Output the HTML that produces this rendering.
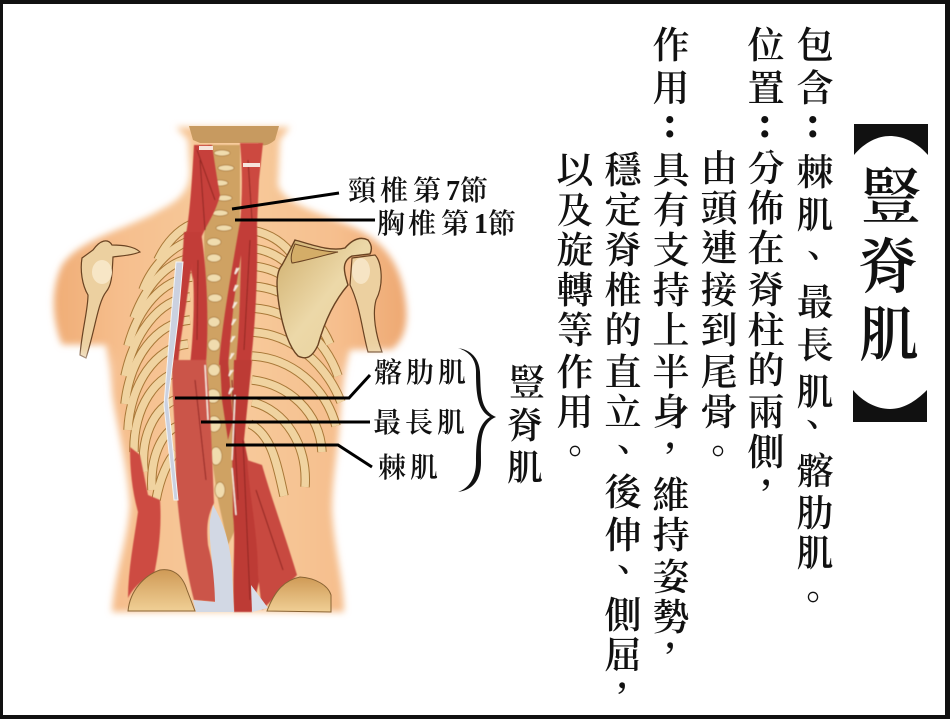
<!DOCTYPE html>
<html lang="zh-Hant">
<head>
<meta charset="utf-8">
<title>豎脊肌</title>
<style>
html,body{margin:0;padding:0;background:#fff}
#p{position:relative;width:950px;height:719px;overflow:hidden;background:#fff}
svg{position:absolute;left:0;top:0}
text{font-family:"Liberation Serif","Noto Serif CJK TC","Noto Serif CJK SC",serif;fill:#111;font-weight:600}
.c text{font-size:37px;text-anchor:middle}
.l text{font-size:28px;text-anchor:middle}
.t text{font-size:60px;text-anchor:middle}
.b text{font-size:36px;text-anchor:middle}
</style>
</head>
<body>
<div id="p">
<svg width="950" height="719" viewBox="0 0 950 719" xmlns="http://www.w3.org/2000/svg">
<defs>
<filter id="bl" x="-20%" y="-20%" width="140%" height="140%"><feGaussianBlur stdDeviation="3.5"/></filter>
<filter id="bl2" x="-40%" y="-40%" width="180%" height="180%"><feGaussianBlur stdDeviation="9"/></filter>
<filter id="bl3" x="-10%" y="-10%" width="120%" height="120%"><feGaussianBlur stdDeviation="0.6"/></filter>
<linearGradient id="sk" x1="0" x2="1" y1="0" y2="0">
<stop offset="0" stop-color="#f0ad76"/><stop offset=".2" stop-color="#f6bf8e"/><stop offset=".5" stop-color="#f7cb9c"/><stop offset=".8" stop-color="#f6bf8e"/><stop offset="1" stop-color="#eea872"/>
</linearGradient>
<linearGradient id="sc" x1="0" x2="1" y1="0" y2="1">
<stop offset="0" stop-color="#cfae6c"/><stop offset=".5" stop-color="#ecd8a8"/><stop offset="1" stop-color="#e8d09a"/>
</linearGradient>
<linearGradient id="pv" x1="0" x2="0" y1="0" y2="1">
<stop offset="0" stop-color="#cf9a56"/><stop offset="1" stop-color="#f0cf95"/>
</linearGradient>
<g id="ribsL" fill="none">
<path d="M192,224 C178,230 166,243 158,260"/>
<path d="M192,240 C172,246 152,266 143,290"/>
<path d="M192,258 C166,262 146,286 134,318"/>
<path d="M192,277 C162,280 138,308 128,346"/>
<path d="M190,297 C158,300 134,334 125,376"/>
<path d="M190,320 C156,323 130,358 125,404"/>
<path d="M188,344 C156,347 130,384 128,430"/>
<path d="M186,370 C156,373 133,408 134,452"/>
<path d="M182,398 C158,402 140,432 144,472"/>
<path d="M178,426 C162,432 150,456 152,490"/>
<path d="M176,452 C168,460 160,478 156,500"/>
</g>
<g id="ribsR" fill="none">
<path d="M250,230 C270,233 285,243 296,260"/>
<path d="M250,248 C275,250 295,266 306,288"/>
<path d="M250,266 C280,267 305,288 318,316"/>
<path d="M250,286 C285,287 315,310 330,344"/>
<path d="M250,308 C290,309 325,338 338,376"/>
<path d="M250,332 C290,333 325,362 341,402"/>
<path d="M252,356 C290,358 325,385 336,426"/>
<path d="M252,380 C288,384 320,412 322,452"/>
<path d="M252,402 C285,410 308,445 305,487"/>
<path d="M250,424 C270,434 276,458 284,496"/>
</g>
</defs>

<!-- body -->
<g filter="url(#bl)">
<path fill="url(#sk)" d="M176,127 L290,127 L280,140 L278,185 C285,205 320,212 355,228 C385,242 402,265 406,305 C408,325 404,340 392,350 L350,350 C344,380 342,395 340,420 C338,450 332,480 332,510 C334,550 344,580 344,612 L112,612 C114,575 128,540 130,505 C128,470 118,430 112,395 C110,375 108,360 106,345 L62,345 C52,320 50,290 62,265 C80,238 130,228 160,210 C180,200 190,190 190,170 L188,140 Z"/>
</g>
<!-- head / hair -->
<path fill="#c79a60" d="M189,126 L279,126 L275,140 C268,146 262,147 258,143 L200,143 L193,140 Z"/>
<!-- ribs -->
<g stroke="#a87838" stroke-width="9.5"><use href="#ribsL"/><use href="#ribsR"/></g>
<g stroke="#f0d3a0" stroke-width="7.5"><use href="#ribsL"/><use href="#ribsR"/></g>

<!-- left arm -->
<path fill="#ecd0a0" stroke="#6a4322" stroke-width="1.2" d="M93,250 C100,240 108,238 112,245 C125,245 135,247 140,252 C130,256 118,256 113,257 C112,275 112,285 106,292 C98,302 95,330 86,358 L80,355 C82,330 88,310 88,295 C82,285 80,270 82,258 Z"/>
<ellipse cx="102" cy="272" rx="10" ry="12" fill="#f7e6c6"/>
<!-- right arm -->
<path fill="#ecd0a0" stroke="#6a4322" stroke-width="1.2" d="M352,258 L375,255 C382,262 384,285 376,300 C372,315 376,335 382,352 L368,352 C362,330 360,305 350,285 Z"/>
<ellipse cx="361" cy="271" rx="9" ry="13" fill="#f6e4c4"/>
<!-- scapula -->
<path fill="url(#sc)" stroke="#6a4322" stroke-width="1.4" d="M295,240 C310,244 330,252 345,248 C352,240 360,236 368,240 C372,245 372,250 370,254 L352,256 C340,262 345,275 348,285 C335,300 325,320 318,345 C312,358 306,360 298,356 C290,348 283,330 279,305 C276,285 276,272 282,265 C286,258 290,250 295,240 Z"/>
<path fill="#d4ad68" stroke="#6a4322" stroke-width="1" d="M295,244 C310,248 325,252 338,252 C325,255 300,262 292,263 C290,258 292,250 295,244 Z"/>
<!-- white fades -->
<g filter="url(#bl2)" fill="#fff">
<path d="M30,352 L106,362 L98,405 L30,410 Z"/>
<path d="M352,362 L425,356 L425,420 L356,410 Z"/>
</g>

<!-- spine -->
<g filter="url(#bl3)">
<path fill="#cfa263" d="M208,145 L240,145 L240,240 L242,330 L238,420 L240,520 L228,545 L218,500 L206,420 L206,330 L204,240 Z"/>
<g fill="#f0dcae" stroke="#a87838" stroke-width=".7">
<ellipse cx="222" cy="153" rx="8" ry="3"/><ellipse cx="226" cy="168" rx="8" ry="3"/><ellipse cx="220" cy="183" rx="8" ry="3"/><ellipse cx="224" cy="198" rx="8" ry="3"/><ellipse cx="220" cy="213" rx="8" ry="3"/><ellipse cx="224" cy="228" rx="8" ry="3"/><ellipse cx="214" cy="242" rx="7" ry="4"/><ellipse cx="214" cy="258" rx="7" ry="4"/><ellipse cx="214" cy="278" rx="7" ry="4"/><ellipse cx="215" cy="298" rx="7" ry="4"/><ellipse cx="214" cy="322" rx="6" ry="5"/><ellipse cx="214" cy="345" rx="6" ry="6"/><ellipse cx="214" cy="370" rx="6" ry="6"/><ellipse cx="213" cy="396" rx="7" ry="7"/><ellipse cx="214" cy="424" rx="7" ry="8"/><ellipse cx="216" cy="456" rx="6" ry="9"/><ellipse cx="220" cy="490" rx="5" ry="8"/><ellipse cx="252" cy="495" rx="6" ry="9"/><ellipse cx="254" cy="475" rx="6" ry="7"/><ellipse cx="252" cy="533" rx="5" ry="6"/>
</g>
</g>

<!-- red muscles -->
<g filter="url(#bl3)">
<path fill="#c6403a" d="M194,145 L212,145 C215,165 218,185 220,195 C216,212 208,222 201,238 C198,250 195,262 193,280 L185,240 C190,215 192,180 194,145 Z"/>
<path fill="#cc4a3f" d="M240,143 L263,143 L259,180 L257,225 L240,225 C242,200 243,175 240,143 Z"/>
<path fill="#c23c37" d="M184,232 L201,232 C207,270 209,320 206,365 L190,365 C194,330 195,290 192,262 L186,305 L180,345 L178,365 L171,365 C174,325 182,280 184,232 Z"/>
<path fill="#c23c37" d="M240,222 L257,222 C258,270 256,320 250,370 L235,370 C240,330 240,290 241,255 L234,300 L228,365 L219,365 C222,325 230,280 240,222 Z"/>
<path fill="#bd3a35" d="M220,360 L228,360 L233,420 L228,440 L222,400 Z"/>
<path fill="#bd3a35" d="M234,360 L252,360 L244,440 L252,480 L264,560 L252,612 L234,612 C232,570 236,540 233,515 L232,440 Z"/>
<path fill="#cb5448" d="M172,360 L206,360 C210,400 212,450 214,503 C208,515 206,525 208,545 C214,570 218,590 216,602 L194,600 C186,570 178,520 176,480 C176,430 172,400 172,360 Z"/>
<path fill="#c8483f" d="M247,460 L262,465 C272,500 285,535 297,575 L262,610 L258,575 C258,535 250,500 247,460 Z"/>
<path fill="#cd4c42" d="M130,447 L140,455 L148,495 L160,500 C162,530 158,555 154,575 C140,580 132,590 128,598 C128,570 134,540 138,512 C132,490 130,470 130,447 Z"/>
<g fill="none" stroke="#8f2622" stroke-width="1">
<path d="M197,150 L215,200 M200,160 L205,230 M248,160 L252,220 M250,240 L244,350 M232,380 L238,500 M243,440 L250,600 M256,490 L283,570 M198,260 L197,340 M195,380 L206,480"/>
</g>
<g fill="none" stroke="#f8ece0" stroke-width="1.4">
<path d="M237,268 L235,274 L239,268 M236,285 L234,291 L238,285 M235,302 L233,308 L237,302 M234,319 L232,325 L236,319 M233,336 L231,342 L235,336 M232,353 L230,359 L234,353 M231,370 L229,376 L233,370 M231,388 L229,394 L233,388"/>
<path d="M205,365 L208,420 M235,395 L232,460 M232,468 L236,515"/>
</g>
</g>
<!-- tendon white -->
<path fill="#d2d8e4" d="M213,505 C222,520 230,540 232,570 L234,612 L196,612 L193,600 L215,602 C215,575 208,540 210,520 Z"/>
<path fill="#d8dde8" d="M251,585 L268,608 L252,612 Z"/>
<path fill="#cbd1e0" stroke="#f4f4f4" stroke-width="1" d="M176,262 L183,262 L178,320 L168,400 L175,470 L178,500 L174,500 L164,405 L170,330 Z"/>
<rect x="199" y="146" width="14" height="4" fill="#f6e4dc"/>
<rect x="243" y="163" width="17" height="4" fill="#f6e4dc"/>
<!-- pelvis -->
<path fill="url(#pv)" stroke="#8a6434" stroke-width="1" d="M128,611 C130,590 145,575 160,570 C172,568 182,574 187,590 L195,611 Z"/>
<path fill="url(#pv)" stroke="#8a6434" stroke-width="1" d="M267,611 C275,590 285,580 300,577 C315,578 328,585 331,595 L331,612 Z"/>

<!-- leader lines -->
<g fill="none" stroke="#000" stroke-width="3">
<path d="M232,209 L339,193"/>
<path d="M235,220 L375,220"/>
<path d="M175,398 L349,398 L370,375"/>
<path d="M201,422 L370,422"/>
<path d="M226,445 L338,445 L372,467"/>
</g>
<!-- brace -->
<path fill="#111" d="M458,348 C471,350 479,358 480,372 C481,390 479,410 496,417 C479,424 481,445 481,462 C481,480 473,490 458,492 C469,488 476,478 476,462 C476,440 478,424 490,417 C477,410 476,392 476,372 C476,360 470,352 458,348 Z"/>

<!-- brackets -->
<path fill="#111" d="M854,124 L928,124 L928,155 C915,140 900,136 890,136 C878,136 865,142 854,155 Z"/>
<path fill="#111" d="M853,422 L927,422 L927,390 C915,402 903,409 890,409 C877,409 863,402 853,390 Z"/>

<!-- title -->
<g class="t">
<text x="891" y="218">豎</text>
<text x="888" y="288">脊</text>
<text x="889" y="356">肌</text>
</g>

<!-- vertical columns -->
<g class="c">
<text x="815" y="58">包</text><text x="815" y="101">含</text>
<text x="815" y="185">棘</text><text x="815" y="228">肌</text><text x="814" y="269">、</text><text x="815" y="315">最</text><text x="815" y="358">長</text><text x="815" y="405">肌</text><text x="813" y="438">、</text><text x="815" y="484">髂</text><text x="815" y="526">肋</text><text x="815" y="566">肌</text><text x="813" y="611">。</text>

<text x="766" y="58">位</text><text x="766" y="101">置</text>
<text x="766" y="181">分</text><text x="766" y="221">佈</text><text x="766" y="261">在</text><text x="766" y="303">脊</text><text x="766" y="343">柱</text><text x="766" y="383">的</text><text x="766" y="425">兩</text><text x="766" y="465">側</text><text x="766" y="500">，</text>

<text x="719" y="181">由</text><text x="719" y="221">頭</text><text x="719" y="261">連</text><text x="719" y="303">接</text><text x="719" y="343">到</text><text x="719" y="385">尾</text><text x="719" y="425">骨</text><text x="718" y="465">。</text>

<text x="671" y="58">作</text><text x="671" y="101">用</text>
<text x="671" y="183">具</text><text x="671" y="223">有</text><text x="671" y="263">支</text><text x="671" y="303">持</text><text x="671" y="343">上</text><text x="671" y="385">半</text><text x="671" y="425">身</text><text x="670" y="463">，</text><text x="671" y="508">維</text><text x="671" y="548">持</text><text x="671" y="590">姿</text><text x="671" y="630">勢</text><text x="670" y="663">，</text>

<text x="623" y="183">穩</text><text x="623" y="223">定</text><text x="623" y="263">脊</text><text x="623" y="303">椎</text><text x="623" y="343">的</text><text x="623" y="385">直</text><text x="623" y="425">立</text><text x="624" y="463">、</text><text x="623" y="505">後</text><text x="623" y="548">伸</text><text x="624" y="583">、</text><text x="623" y="628">側</text><text x="623" y="668">屈</text><text x="622" y="703">，</text>

<text x="575" y="183">以</text><text x="575" y="223">及</text><text x="575" y="263">旋</text><text x="575" y="303">轉</text><text x="575" y="343">等</text><text x="575" y="385">作</text><text x="575" y="425">用</text><text x="575" y="465">。</text>

<text x="813" y="137" style="font-size:44px">:</text><text x="765" y="137" style="font-size:44px">:</text><text x="670" y="137" style="font-size:44px">:</text>
</g>

<!-- labels -->
<g class="l">
<text x="362" y="200">頸</text><text x="394" y="200">椎</text><text x="427" y="200">第</text><text x="453" y="200">7</text><text x="474" y="200">節</text>
<text x="391" y="233">胸</text><text x="422" y="233">椎</text><text x="455" y="233">第</text><text x="481" y="233">1</text><text x="502" y="233">節</text>
<text x="388" y="382">髂</text><text x="420" y="382">肋</text><text x="452" y="382">肌</text>
<text x="387" y="432">最</text><text x="419" y="432">長</text><text x="451" y="432">肌</text>
<text x="392" y="477">棘</text><text x="424" y="477">肌</text>
</g>
<g class="b">
<text x="527" y="395">豎</text>
<text x="525" y="438">脊</text>
<text x="525" y="480">肌</text>
</g>
</svg>
<!-- frame -->
<div style="position:absolute;left:0;top:0;width:950px;height:719px;box-sizing:border-box;border-style:solid;border-color:#111;border-width:4px 5px 4px 3px"></div>
</div>
</body>
</html>
